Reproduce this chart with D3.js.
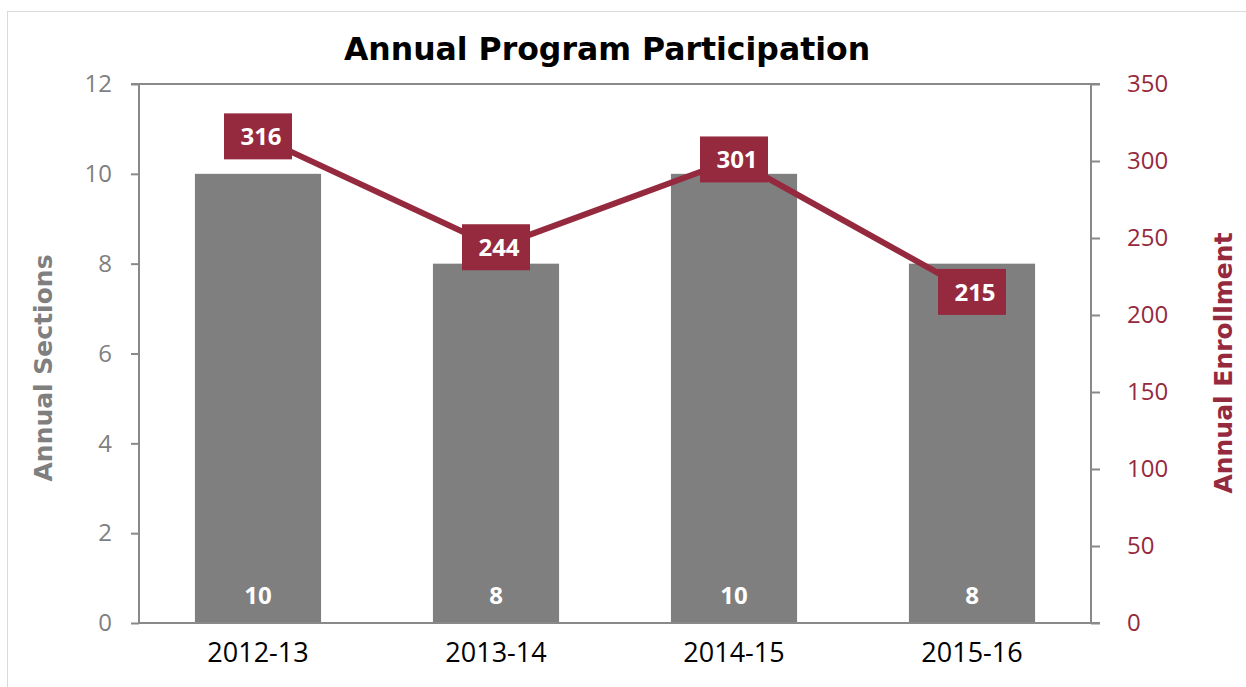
<!DOCTYPE html>
<html>
  <head>
  <title>Annual Program Participation</title>
  <script src="https://d3js.org/d3.v7.min.js"></script>
  </head>
  <body>
    <svg id="svg" width="1246" height="687"></svg>
  </body>
</html>

<script>
  const years = ['2012-13', '2013-14', '2014-15', '2015-16'];
  const sections = [10, 8, 10, 8];
  const enrollment = [316, 244, 301, 215];
  const leftTicks = [0, 2, 4, 6, 8, 10, 12];
  const rightTicks = [0, 50, 100, 150, 200, 250, 300, 350];

  const maroon = '#952a3e';
  const gray = '#7f7f7f';
  const axisGray = '#898989';

  const plotL = 139, plotR = 1091, plotT = 84, plotB = 623;
  const svg = d3.select('#svg');

  // chart frame
  svg.append('rect')
    .attr('x', 7.5).attr('y', 11.5)
    .attr('width', 1260).attr('height', 700)
    .style('fill', 'white').style('stroke', '#d9d9d9');

  const x = d3.scaleBand().domain(years).range([plotL, plotR]).paddingInner(0.47).paddingOuter(0.235);
  const yL = d3.scaleLinear().domain([0, 12]).range([plotB, plotT]);
  const yR = d3.scaleLinear().domain([0, 350]).range([plotB, plotT]);
  const xc = d => x(d) + x.bandwidth() / 2;

  // bars
  svg.selectAll('.bar').data(years).join('rect')
    .attr('class', 'bar')
    .attr('x', d => x(d))
    .attr('width', x.bandwidth())
    .attr('y', (d, i) => yL(sections[i]))
    .attr('height', (d, i) => plotB - yL(sections[i]))
    .style('fill', gray);

  svg.selectAll('.barlabel').data(years).join('text')
    .attr('class', 'barlabel')
    .attr('x', d => xc(d))
    .attr('y', 604)
    .attr('text-anchor', 'middle')
    .style('font', 'bold 24px "Open Sans"')
    .style('fill', 'white')
    .text((d, i) => sections[i]);

  // axes
  const gl = svg.append('g').attr('transform', `translate(${plotL},0)`)
    .call(d3.axisLeft(yL).tickValues(leftTicks).tickSize(8).tickPadding(19));
  const gr = svg.append('g').attr('transform', `translate(${plotR},0)`)
    .call(d3.axisRight(yR).tickValues(rightTicks).tickSize(9).tickPadding(27));
  const gb = svg.append('g').attr('transform', `translate(0,${plotB})`)
    .call(d3.axisBottom(x).tickSize(0).tickPadding(20));

  [gl, gr, gb].forEach(g => {
    g.select('.domain').remove();
    g.selectAll('line').style('stroke', axisGray).style('stroke-width', 2);
  });
  gl.selectAll('text').style('font', '24px "Open Sans"').style('fill', gray);
  gr.selectAll('text').style('font', '24px "Open Sans"').style('fill', maroon);
  gb.selectAll('text').style('font', '27px "Open Sans"').style('fill', 'black');

  // plot border lines
  svg.append('path')
    .attr('d', `M${plotL - 8},${plotT}H${plotR + 9}M${plotL},${plotT}V${plotB}H${plotR + 9}M${plotR},${plotT}V${plotB}`)
    .style('fill', 'none').style('stroke', axisGray).style('stroke-width', 2);

  // line series
  const line = d3.line().x(d => xc(d[0])).y(d => yR(d[1]));
  svg.append('path')
    .datum(years.map((d, i) => [d, enrollment[i]]))
    .attr('d', line)
    .style('fill', 'none').style('stroke', maroon).style('stroke-width', 6);

  const lab = svg.selectAll('.ptlabel').data(years).join('g')
    .attr('class', 'ptlabel')
    .attr('transform', (d, i) => `translate(${xc(d)},${yR(enrollment[i])})`);
  lab.append('rect')
    .attr('x', -34).attr('y', -23).attr('width', 68).attr('height', 46)
    .style('fill', maroon);
  lab.append('text')
    .attr('x', 3).attr('y', 9)
    .attr('text-anchor', 'middle')
    .style('font', 'bold 24px "Open Sans"')
    .style('fill', 'white')
    .text((d, i) => enrollment[i]);

  // titles
  svg.append('text')
    .attr('x', 607).attr('y', 60)
    .attr('text-anchor', 'middle')
    .style('font', 'bold 31.5px "DejaVu Sans"')
    .text('Annual Program Participation');

  svg.append('text')
    .attr('transform', 'translate(52,368) rotate(-90)')
    .attr('text-anchor', 'middle')
    .style('font', 'bold 25px "DejaVu Sans"')
    .style('fill', gray)
    .text('Annual Sections');

  svg.append('text')
    .attr('transform', 'translate(1232,363) rotate(-90)')
    .attr('text-anchor', 'middle')
    .style('font', 'bold 25px "DejaVu Sans"')
    .style('fill', maroon)
    .text('Annual Enrollment');
</script>

<style>
  body { margin: 0; }
</style>
